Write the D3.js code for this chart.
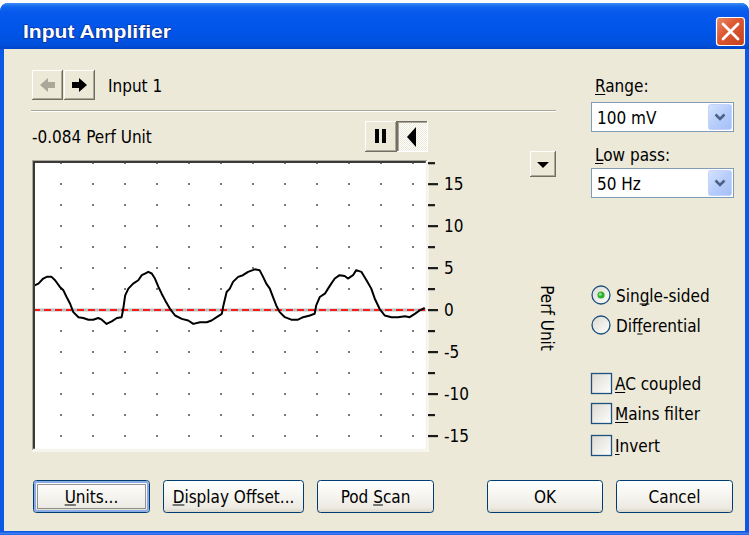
<!DOCTYPE html>
<html><head><meta charset="utf-8">
<script src="https://cdn.jsdelivr.net/npm/d3@7"></script>
<style>
html,body{margin:0;padding:0;background:#fff;overflow:hidden}
svg{display:block}
text{font-family:"DejaVu Sans Condensed","DejaVu Sans",sans-serif;font-stretch:condensed;fill:#000}
</style></head><body>
<svg id="c" width="749" height="535"></svg>
<script>
// ---------------- data ----------------
const times = [0,0.17,0.32,0.43,0.58,0.69,0.84,0.95,1.05,1.16,1.26,1.42,1.57,1.73,1.88,2.04,2.15,2.30,2.46,2.62,2.77,2.82,2.88,2.98,3.13,3.29,3.40,3.50,3.60,3.71,3.81,3.92,4.02,4.13,4.28,4.44,4.65,4.85,5.01,5.22,5.43,5.58,5.74,5.90,5.95,6.05,6.15,6.25,6.41,6.56,6.72,6.93,7.08,7.19,7.29,7.40,7.50,7.60,7.71,7.87,8.07,8.28,8.44,8.65,8.80,8.85,8.96,9.12,9.22,9.32,9.43,9.58,9.74,9.84,10.00,10.10,10.26,10.42,10.57,10.68,10.83,10.99,11.20,11.41,11.62,11.77,11.93,12.08,12.24];
const values = [2.8,3.1,3.7,3.9,3.9,3.5,2.7,2.3,1.5,0.7,-0.3,-0.9,-1.0,-1.2,-1.2,-1.0,-1.2,-1.7,-1.4,-1.0,-0.9,0.1,1.7,2.5,3.1,3.5,4.1,4.3,4.5,4.3,3.7,2.7,1.9,1.1,0.1,-0.7,-1.1,-1.3,-1.7,-1.5,-1.5,-1.3,-0.9,-0.5,0.5,2.1,2.5,3.3,3.9,4.1,4.5,4.8,4.7,3.9,3.1,2.5,1.5,0.5,-0.3,-0.9,-1.2,-1.2,-0.9,-0.7,-0.5,0.5,1.5,1.9,2.5,3.1,3.7,4.1,4.0,3.7,4.1,4.7,4.5,3.5,2.5,1.3,0.1,-0.7,-0.9,-0.9,-0.8,-0.9,-0.5,-0.1,0.2];
const majorTicks = [-15,-10,-5,0,5,10,15];
const minorTicks = [-12.5,-7.5,-2.5,2.5,7.5,12.5,17.5];
const gridX = [0.875,1.875,2.875,3.875,4.875,5.875,6.875,7.875,8.875,9.875,10.875,11.875];
const gridY = [-15,-12.5,-10,-7.5,-5,-2.5,0,2.5,5,7.5,10,12.5,15,17.5];
const xDomain = [0,12.28];
const yDomain = [-16.6,17.7];
const referenceLevel = 0;
const titleText = "Input Amplifier";
const channelName = "Input 1";
const readoutText = "-0.084 Perf Unit";
const unitName = "Perf Unit";
const rangeValue = "100 mV";
const lowPassValue = "50 Hz";

// ---------------- setup ----------------
const svg = d3.select("#c");
const defs = svg.append("defs");
function lin(id, stops, x2=0, y2=1){
  const g = defs.append("linearGradient").attr("id",id).attr("x1",0).attr("y1",0).attr("x2",x2).attr("y2",y2);
  stops.forEach(s=>g.append("stop").attr("offset",s[0]).attr("stop-color",s[1]));
}
lin("gTitle",[[0,"#3D8DF6"],[0.08,"#1267EE"],[0.2,"#0659EC"],[0.6,"#0055E9"],[0.9,"#0050DC"],[1,"#0044C6"]]);
lin("gBtn",[[0,"#FFFFFF"],[0.45,"#F6F5F0"],[0.85,"#ECEAE2"],[1,"#D8D3C6"]]);
lin("gCombo",[[0,"#D6E3FD"],[0.5,"#B7CEFB"],[1,"#A4BFF6"]],1,1);
lin("gClose",[[0,"#E88A6B"],[0.4,"#DE5A35"],[1,"#C3401B"]],1,1);
lin("gRadio",[[0,"#DCD9CE"],[1,"#FFFFFF"]],1,1);
lin("gCheck",[[0,"#DCDAD0"],[1,"#FFFFFF"]],1,1);
const pat = defs.append("pattern").attr("id","dither").attr("width",2).attr("height",2).attr("patternUnits","userSpaceOnUse");
pat.append("rect").attr("width",2).attr("height",2).attr("fill","#FFFFFF");
pat.append("rect").attr("width",1).attr("height",1).attr("fill","#ECE9D8");
pat.append("rect").attr("x",1).attr("y",1).attr("width",1).attr("height",1).attr("fill","#ECE9D8");

function line(g,x1,y1,x2,y2,c,w=1){g.append("line").attr("x1",x1).attr("y1",y1).attr("x2",x2).attr("y2",y2).attr("stroke",c).attr("stroke-width",w);}
function txt(g, x, y, s, opt={}){
  const fs = opt.size||17;
  const t = g.append("text").attr("x",x).attr("y",y).attr("font-size",fs).style("font-size",fs+"px").text(s);
  if(opt.anchor) t.attr("text-anchor",opt.anchor);
  if(opt.ul!=null){
    const n = t.node();
    const a = n.getStartPositionOfChar(opt.ul).x, b = n.getEndPositionOfChar(opt.ul).x;
    line(g,a,y+2.5,b,y+2.5,"#000",1);
  }
  return t;
}
function raised(g,x,y,w,h){
  g.append("rect").attr("x",x).attr("y",y).attr("width",w).attr("height",h).attr("fill","#ECE9D8");
  line(g,x,y+0.5,x+w,y+0.5,"#FFFFFF"); line(g,x+0.5,y,x+0.5,y+h,"#FFFFFF");
  line(g,x,y+h-0.5,x+w,y+h-0.5,"#716F64"); line(g,x+w-0.5,y,x+w-0.5,y+h,"#716F64");
  line(g,x+1,y+h-1.5,x+w-1,y+h-1.5,"#ACA899"); line(g,x+w-1.5,y+1,x+w-1.5,y+h-1,"#ACA899");
}
function xpButton(g,x,y,w,h,label,ul,focused){
  g.append("rect").attr("x",x+0.5).attr("y",y+0.5).attr("width",w-1).attr("height",h-1).attr("rx",3)
    .attr("fill","url(#gBtn)").attr("stroke","#003C74");
  if(focused){
    g.append("rect").attr("x",x+2).attr("y",y+2).attr("width",w-4).attr("height",h-4).attr("rx",2)
      .attr("fill","none").attr("stroke","#8CACE6").attr("stroke-width",2);
    g.append("rect").attr("x",x+4.5).attr("y",y+4.5).attr("width",w-9).attr("height",h-9)
      .attr("fill","none").attr("stroke","#333").attr("stroke-dasharray","1,1");
  }
  txt(g,x+w/2,y+h/2+6,label,{anchor:"middle",ul:ul});
}
function combo(g,x,y,w,h,val){
  g.append("rect").attr("x",x+0.5).attr("y",y+0.5).attr("width",w-1).attr("height",h-1).attr("fill","#fff").attr("stroke","#7F9DB9");
  const bx=x+w-26, by=y+2, bw=24, bh=h-4;
  g.append("rect").attr("x",bx+0.5).attr("y",by+0.5).attr("width",bw-1).attr("height",bh-1).attr("rx",2)
    .attr("fill","url(#gCombo)").attr("stroke","#C3D3FD");
  const cx=bx+bw/2, cy=by+bh/2;
  g.append("path").attr("d",`M${cx-4.5},${cy-2.5}L${cx},${cy+2}L${cx+4.5},${cy-2.5}`).attr("fill","none")
    .attr("stroke","#4D6185").attr("stroke-width",2.6);
  txt(g,x+6,y+h/2+6.5,val);
}

// ---------------- window chrome ----------------
svg.append("rect").attr("x",0).attr("y",0).attr("width",749).attr("height",535).attr("fill","#fff");
svg.append("path").attr("d","M0,535L0,12Q0,3 9,3L740,3Q749,3 749,12L749,535Z").attr("fill","#0A58E4");
svg.append("path").attr("d","M0,49L0,12Q0,3 9,3L740,3Q749,3 749,12L749,49Z").attr("fill","url(#gTitle)");
svg.append("rect").attr("x",4).attr("y",49).attr("width",741).attr("height",482).attr("fill","#ECE9D8");
line(svg,0,533.5,749,533.5,"#3F7CF0",2);
// title (dark outline painted beneath white fill gives the shadowed look)
svg.append("text").attr("x",23).attr("y",38).attr("font-size",19).style("font-size","19px").attr("font-weight","bold")
  .style("font-family","'Liberation Sans',Arial,sans-serif").style("font-stretch","normal")
  .style("fill","#FFFFFF").style("stroke","#0A2A8A").style("stroke-width","1.2px").style("paint-order","stroke")
  .attr("textLength",148).attr("lengthAdjust","spacingAndGlyphs").text(titleText);
// close button
const cb = svg.append("g");
cb.append("rect").attr("x",716.5).attr("y",17.5).attr("width",28).attr("height",28).attr("rx",3)
  .attr("fill","url(#gClose)").attr("stroke","#FFFFFF").attr("stroke-width",1.2);
cb.append("path").attr("d","M723,24L738,39M738,24L723,39").attr("stroke","#fff").attr("stroke-width",2.8).attr("stroke-linecap","round");

// ---------------- top-left controls ----------------
const tl = svg.append("g");
raised(tl,32,70,31,30); raised(tl,64,70,31,30);
tl.append("path").attr("d","M40,85L48,78L48,82L55,82L55,88L48,88L48,92Z").attr("fill","#ACA899");
tl.append("path").attr("d","M87,85L79,78L79,82L72,82L72,88L79,88L79,92Z").attr("fill","#000");
txt(tl,108,92,channelName);
line(tl,31,110.5,556,110.5,"#ACA899"); line(tl,31,111.5,556,111.5,"#FFFFFF");
txt(tl,32,143,readoutText);
// pause / scroll buttons
raised(tl,365,121,32,31);
tl.append("rect").attr("x",375).attr("y",129).attr("width",4).attr("height",14).attr("fill","#000");
tl.append("rect").attr("x",382).attr("y",129).attr("width",4).attr("height",14).attr("fill","#000");
tl.append("rect").attr("x",397).attr("y",121).attr("width",31).attr("height",31).attr("fill","url(#dither)");
line(tl,397,121.5,428,121.5,"#716F64"); line(tl,397.5,121,397.5,152,"#716F64");
line(tl,398,122.5,427,122.5,"#ACA899"); line(tl,398.5,122,398.5,151,"#ACA899");
line(tl,397,151.5,428,151.5,"#FFFFFF"); line(tl,427.5,121,427.5,152,"#FFFFFF");
tl.append("path").attr("d","M407,137L416,127L416,147Z").attr("fill","#000");
// small dropdown button
raised(tl,530,151,26,26);
tl.append("path").attr("d","M537,162L549,162L543,168Z").attr("fill","#000");

// ---------------- chart ----------------
const L=33, R=426, T=161, B=449;
const x = d3.scaleLinear().domain(xDomain).range([L,R]);
const y = d3.scaleLinear().domain(yDomain).range([B,T]);
const ch = svg.append("g");
ch.append("rect").attr("x",L).attr("y",T).attr("width",R-L).attr("height",B-T).attr("fill","#FFFFFF");
// grid dots
const cells = [];
gridX.forEach(gx=>gridY.forEach(gy=>cells.push([gx,gy])));
ch.append("g").selectAll("rect").data(cells).join("rect")
  .attr("x",d=>Math.round(x(d[0]))-1).attr("y",d=>Math.round(y(d[1]))-1)
  .attr("width",2).attr("height",2).attr("fill","#7A7A7A");
// reference line
ch.append("line").attr("x1",L).attr("x2",R).attr("y1",y(referenceLevel)+0.5).attr("y2",y(referenceLevel)+0.5)
  .attr("stroke","#BDBDBD").attr("stroke-width",3);
ch.append("line").attr("x1",L).attr("x2",R).attr("y1",y(referenceLevel)+0.5).attr("y2",y(referenceLevel)+0.5)
  .attr("stroke","#FF1A1A").attr("stroke-width",2).attr("stroke-dasharray","7,4");
// waveform
const pts = times.map((t,i)=>[t,values[i]]);
ch.append("path").datum(pts)
  .attr("d",d3.line().x(d=>x(d[0])).y(d=>y(d[1])))
  .attr("fill","none").attr("stroke","#000").attr("stroke-width",2).attr("stroke-linejoin","round");
// sunken border
line(ch,L-1,T-0.5,R+1,T-0.5,"#ACA899"); line(ch,L-0.5,T-1,L-0.5,B+1,"#ACA899");
line(ch,L,T+1,R,T+1,"#3A3A3A",2); line(ch,L+1,T,L+1,B,"#3A3A3A",2);
line(ch,L,B+0.5,R+2,B+0.5,"#F4F3EE",1.5); line(ch,R+0.5,T,R+0.5,B+1,"#F4F3EE",1.5);
line(ch,L-1,B+2,R+3,B+2,"#FFFFFF",1); line(ch,R+2,T-1,R+2,B+2,"#FFFFFF",1);

// axes
const axMajor = d3.axisRight(y).tickValues(majorTicks).tickSize(10).tickPadding(6).tickFormat(d=>String(d));
const axMinor = d3.axisRight(y).tickValues(minorTicks).tickSize(7).tickFormat("");
const gMaj = ch.append("g").attr("transform",`translate(428,0)`).call(axMajor);
const gMin = ch.append("g").attr("transform",`translate(428,0)`).call(axMinor);
gMin.selectAll("text").remove();
[gMaj,gMin].forEach(g=>{
  g.select(".domain").remove();
  g.attr("font-size",17);
  g.selectAll(".tick line").attr("stroke","#1A1A1A").attr("stroke-width",2.2);
});
gMaj.selectAll(".tick text").attr("font-size",17).style("font-size","17px")
  .style("font-family","'DejaVu Sans Condensed','DejaVu Sans',sans-serif").attr("fill","#000");
const ug = svg.append("g").attr("transform","translate(541,318) rotate(90)");
ug.append("text").attr("x",0).attr("y",0).attr("text-anchor","middle")
  .attr("font-size",17).style("font-size","17px").text(unitName);

// ---------------- right panel ----------------
const rp = svg.append("g");
txt(rp,595,92,"Range:",{ul:0});
combo(rp,591,102,143,30,rangeValue);
txt(rp,595,161,"Low pass:",{ul:0});
combo(rp,591,168,143,30,lowPassValue);
// radios
function radio(g,cx,cy,label,ul,checked){
  g.append("circle").attr("cx",cx).attr("cy",cy).attr("r",9).attr("fill","url(#gRadio)").attr("stroke","#1C5180").attr("stroke-width",1.3);
  if(checked){
    g.append("circle").attr("cx",cx).attr("cy",cy).attr("r",3.6).attr("fill","#2DB22D");
    g.append("circle").attr("cx",cx-0.8).attr("cy",cy-0.8).attr("r",1.5).attr("fill","#8EE08E");
  }
  txt(g,cx+15,cy+6.5,label,{ul:ul});
}
radio(rp,601,295,"Single-sided",3,true);
radio(rp,601,325,"Differential",3,false);
function check(g,bx,by,label,ul){
  g.append("rect").attr("x",bx+0.5).attr("y",by+0.5).attr("width",20).attr("height",20).attr("fill","url(#gCheck)").attr("stroke","#1C5180").attr("stroke-width",1.3);
  txt(g,bx+24,by+17,label,{ul:ul});
}
check(rp,591,373,"AC coupled",0);
check(rp,591,403,"Mains filter",0);
check(rp,591,435,"Invert",0);

// ---------------- bottom buttons ----------------
const bb = svg.append("g");
xpButton(bb,33,480,117,33,"Units...",0,true);
xpButton(bb,163,480,141,33,"Display Offset...",0,false);
xpButton(bb,317,480,117,33,"Pod Scan",4,false);
xpButton(bb,487,480,116,33,"OK",null,false);
xpButton(bb,616,480,117,33,"Cancel",null,false);
</script></body></html>
